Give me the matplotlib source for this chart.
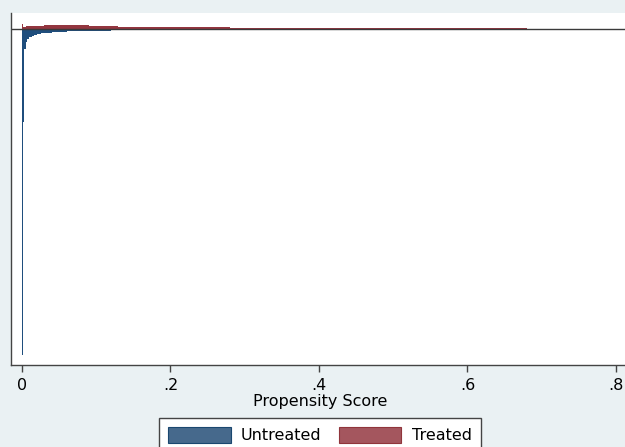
import numpy as np
import matplotlib.pyplot as plt
from matplotlib.patches import Patch

# histogram bins (density, arbitrary units)
untreated_edges = [0, 0.0012, 0.003, 0.005, 0.007, 0.01, 0.013, 0.016, 0.02, 0.025,
                   0.03, 0.04, 0.05, 0.06, 0.08, 0.1, 0.12, 0.15, 0.2, 0.3, 0.4,
                   0.5, 0.6, 0.68]
untreated_density = [326, 93, 20, 13, 10, 8, 6.5, 5.5, 4.5, 4, 3.5, 3, 2.5, 2.2,
                     1.9, 1.6, 1.4, 1.2, 1.0, 0.9, 0.8, 0.7, 0.6]

treated_edges = [0, 0.002, 0.005, 0.01, 0.02, 0.03, 0.04, 0.05, 0.06, 0.07, 0.08,
                 0.09, 0.1, 0.11, 0.12, 0.13, 0.14, 0.16, 0.18, 0.2, 0.22, 0.25,
                 0.28, 0.3, 0.35, 0.4, 0.45, 0.5, 0.55, 0.6, 0.64, 0.68]
treated_density = [5, 2.5, 3, 3.5, 3.3, 4, 3.8, 4.2, 4.5, 4, 3.6, 3.2, 3, 2.6,
                   2.7, 2.2, 2.1, 2, 1.9, 1.8, 1.6, 1.6, 1.4, 1.3, 1.1, 1.0,
                   0.9, 0.9, 0.8, 0.7, 0.6]

xticks = [0, 0.2, 0.4, 0.6, 0.8]
xticklabels = ["0", ".2", ".4", ".6", ".8"]

navy = "#1f4e7d"
maroon = "#93363f"

fig = plt.figure(figsize=(6.25, 4.47), dpi=100, facecolor="#eaf1f3")
ax = fig.add_axes([11 / 625, 82 / 447, 619 / 625, 352 / 447])
ax.set_facecolor("white")

ax.stairs(np.array(treated_density), treated_edges, baseline=0, fill=True,
          color=maroon, lw=0)
ax.stairs(-np.array(untreated_density), untreated_edges, baseline=0, fill=True,
          color=navy, lw=0)
ax.axhline(0, color="#3a3a3a", lw=1)

ax.set_xlim(-0.0148, 0.819)
ax.set_ylim(-336, 16)

for s in ["top", "right"]:
    ax.spines[s].set_visible(False)
for s in ["left", "bottom"]:
    ax.spines[s].set_color("#444444")
    ax.spines[s].set_linewidth(1)

ax.set_yticks([])
ax.set_xticks(xticks)
ax.set_xticklabels(xticklabels, fontsize=11.5)
ax.tick_params(axis="x", length=5, width=1, color="#444444", pad=4)
ax.set_xlabel("Propensity Score", fontsize=11.5, labelpad=1)

handles = [Patch(facecolor="#46698c", edgecolor="#1a476f", lw=0.8),
           Patch(facecolor="#a4565e", edgecolor="#90353b", lw=0.8)]
leg = fig.legend(handles, ["Untreated", "Treated"], loc="upper center",
                 bbox_to_anchor=(0.512, 1 - 418 / 447), ncol=2, fontsize=11.5,
                 frameon=True, fancybox=False, edgecolor="#444444",
                 framealpha=1, handlelength=3.9, handleheight=1.15,
                 handletextpad=0.65, columnspacing=1.1, borderpad=0.55,
                 borderaxespad=0)
leg.get_frame().set_linewidth(1)

plt.savefig("out.png", dpi=100, facecolor=fig.get_facecolor())
